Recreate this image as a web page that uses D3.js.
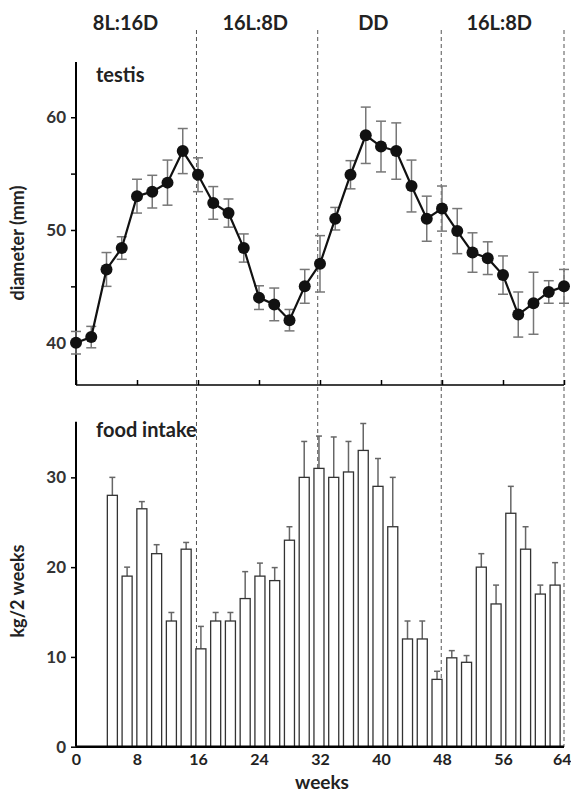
<!DOCTYPE html>
<html lang="en">
<head>
<meta charset="UTF-8" />
<title>testis and food intake</title>
<script src="https://cdn.jsdelivr.net/npm/d3@7"></script>
<style>
  body { margin: 0; background: #fff; }
  text { font-family: Lato, "Open Sans", sans-serif; font-weight: bold; fill: #222; }
</style>
</head>
<body>
<svg id="chart" width="571" height="793"></svg>
<script>
// light regimes across the top
var phaseLabels = ["8L:16D", "16L:8D", "DD", "16L:8D"];
var phaseCentres = [6.5, 23.5, 39, 55.5];
var phaseBreaks = [15.8, 31.7, 47.9, 64];

// testis diameter (mm), every 2 weeks
var testisWeeks = [0, 2, 4, 6, 8, 10, 12, 14, 16, 18, 20, 22, 24, 26, 28, 30, 32,
  34, 36, 38, 40, 42, 44, 46, 48, 50, 52, 54, 56, 58, 60, 62, 64];
var testisMean = [40, 40.5, 46.5, 48.4, 53, 53.4, 54.2, 57, 54.9, 52.4, 51.5, 48.4, 44, 43.4, 42, 45, 47,
  51, 54.9, 58.4, 57.4, 57, 53.9, 51, 51.9, 49.9, 48, 47.5, 46, 42.5, 43.5, 44.5, 45];
var testisErr = [1, 0.95, 1.5, 1, 1.5, 1.45, 2, 2, 1.5, 1.45, 1.25, 1.25, 1.05, 1.45, 0.95, 1.5, 2.5,
  1, 1.25, 2.5, 2.25, 2.5, 2.3, 2, 2, 2, 1.75, 1.45, 1.7, 2, 2.75, 1, 1.5];

// food intake (kg / 2 weeks), 31 two-week periods from week 4 on
var foodMean = [28, 19, 26.5, 21.5, 14, 22, 10.9, 14, 14, 16.5, 19, 18.5, 23, 30,
  31, 30, 30.6, 33, 29, 24.5, 12, 12, 7.5, 9.9, 9.4, 20, 15.9, 26, 22, 17, 18];
var foodErr = [2, 1, 0.8, 1, 0.95, 0.75, 2.5, 0.95, 0.95, 3, 1.45, 1.45, 1.5, 4,
  3.6, 4.5, 3.4, 3, 3.1, 5.5, 2, 2, 0.9, 0.8, 0.75, 1.5, 2.1, 3, 2.5, 1, 2.5];

var weekTicks = [0, 8, 16, 24, 32, 40, 48, 56, 64];

var svg = d3.select("#chart");

var x = d3.scaleLinear().domain([0, 64]).range([76, 564]);
var yT = d3.scaleLinear().domain([36.25, 64.9]).range([385, 62]);
var yF = d3.scaleLinear().domain([0, 36.2]).range([746.7, 421.7]);
var xBar = d3.scaleBand()
  .domain(d3.range(foodMean.length))
  .range([x(3.8), x(63.8)])
  .paddingInner(0.32)
  .paddingOuter(0.16);

// phase labels and dashed separators
svg.selectAll("text.phase")
  .data(phaseLabels)
  .enter()
  .append("text")
  .attr("class", "phase")
  .attr("x", function (d, i) { return x(phaseCentres[i]); })
  .attr("y", 30)
  .attr("text-anchor", "middle")
  .attr("font-size", 20)
  .text(function (d) { return d; });

svg.selectAll("line.phase")
  .data(phaseBreaks)
  .enter()
  .append("line")
  .attr("x1", function (d) { return x(d); })
  .attr("x2", function (d) { return x(d); })
  .attr("y1", 30)
  .attr("y2", 747)
  .attr("stroke", "#555")
  .attr("stroke-width", 1)
  .attr("stroke-dasharray", "4,3");

// ---- top panel: testis ----
var topY = svg.append("g")
  .attr("transform", "translate(76,0)")
  .call(d3.axisLeft(yT).tickValues([40, 45, 50, 55, 60]).tickSize(5).tickPadding(5)
    .tickFormat(function (d) { return d % 10 === 0 ? d : ""; }));
topY.select(".domain").attr("stroke-width", 2).attr("d", "M0,62V385");
topY.selectAll(".tick line").attr("stroke-width", 1.5);
topY.selectAll("text").attr("font-size", 17).attr("font-weight", "normal").style("fill", "#333");

var topX = svg.append("g")
  .attr("transform", "translate(0,385)")
  .call(d3.axisBottom(x).tickValues(weekTicks).tickSize(-5).tickFormat(""));
topX.select(".domain").attr("stroke-width", 1.5).attr("d", "M76,0H564");
topX.selectAll(".tick line").attr("stroke-width", 1.5);

svg.append("text")
  .attr("x", 96).attr("y", 82)
  .attr("font-size", 20)
  .text("testis");

svg.append("text")
  .attr("transform", "translate(24,243) rotate(-90)")
  .attr("text-anchor", "middle")
  .attr("font-size", 18)
  .text("diameter (mm)");

var testis = testisWeeks.map(function (w, i) {
  return { w: w, m: testisMean[i], e: testisErr[i] };
});

var eb = svg.append("g").attr("stroke", "#777").attr("stroke-width", 1.5);
testis.forEach(function (d) {
  eb.append("line").attr("x1", x(d.w)).attr("x2", x(d.w))
    .attr("y1", yT(d.m - d.e)).attr("y2", yT(d.m + d.e));
  [d.m - d.e, d.m + d.e].forEach(function (v) {
    eb.append("line").attr("x1", x(d.w) - 5).attr("x2", x(d.w) + 5)
      .attr("y1", yT(v)).attr("y2", yT(v));
  });
});

svg.append("path")
  .datum(testis)
  .attr("fill", "none")
  .attr("stroke", "#111")
  .attr("stroke-width", 2.2)
  .attr("d", d3.line().x(function (d) { return x(d.w); }).y(function (d) { return yT(d.m); }));

svg.selectAll("circle.pt")
  .data(testis)
  .enter()
  .append("circle")
  .attr("cx", function (d) { return x(d.w); })
  .attr("cy", function (d) { return yT(d.m); })
  .attr("r", 6)
  .attr("fill", "#111");

// ---- bottom panel: food intake ----
var botY = svg.append("g")
  .attr("transform", "translate(76,0)")
  .call(d3.axisLeft(yF).tickValues([0, 10, 20, 30]).tickSize(5).tickPadding(5));
botY.select(".domain").attr("stroke-width", 2).attr("d", "M0,421.7V746.7");
botY.selectAll(".tick line").attr("stroke-width", 1.5);
botY.selectAll("text").attr("font-size", 17).attr("font-weight", "normal").style("fill", "#333");

svg.append("text")
  .attr("x", 96).attr("y", 437)
  .attr("font-size", 20)
  .text("food intake");

svg.append("text")
  .attr("transform", "translate(24,591) rotate(-90)")
  .attr("text-anchor", "middle")
  .attr("font-size", 18)
  .text("kg/2 weeks");

var fb = svg.append("g").attr("stroke", "#666").attr("stroke-width", 1.5);
foodMean.forEach(function (m, i) {
  var cx = xBar(i) + xBar.bandwidth() / 2;
  fb.append("line").attr("x1", cx).attr("x2", cx)
    .attr("y1", yF(m)).attr("y2", yF(m + foodErr[i]));
  fb.append("line").attr("x1", cx - 3).attr("x2", cx + 3)
    .attr("y1", yF(m + foodErr[i])).attr("y2", yF(m + foodErr[i]));
});

svg.selectAll("rect.bar")
  .data(foodMean)
  .enter()
  .append("rect")
  .attr("x", function (d, i) { return xBar(i); })
  .attr("y", function (d) { return yF(d); })
  .attr("width", xBar.bandwidth())
  .attr("height", function (d) { return yF(0) - yF(d); })
  .attr("fill", "#fff")
  .attr("stroke", "#333")
  .attr("stroke-width", 1.3);

var botX = svg.append("g")
  .attr("transform", "translate(0,746.7)")
  .call(d3.axisBottom(x).tickValues(weekTicks).tickSize(0).tickPadding(7));
botX.select(".domain").attr("stroke-width", 2.5).attr("d", "M76,0H564");
botX.selectAll("text").attr("font-size", 16);
// last label sits against the right edge
botX.selectAll(".tick").filter(function (d) { return d === 64; })
  .select("text").attr("text-anchor", "end").attr("x", 7);

svg.append("text")
  .attr("x", 322).attr("y", 789)
  .attr("text-anchor", "middle")
  .attr("font-size", 19)
  .text("weeks");
</script>
</body>
</html>
